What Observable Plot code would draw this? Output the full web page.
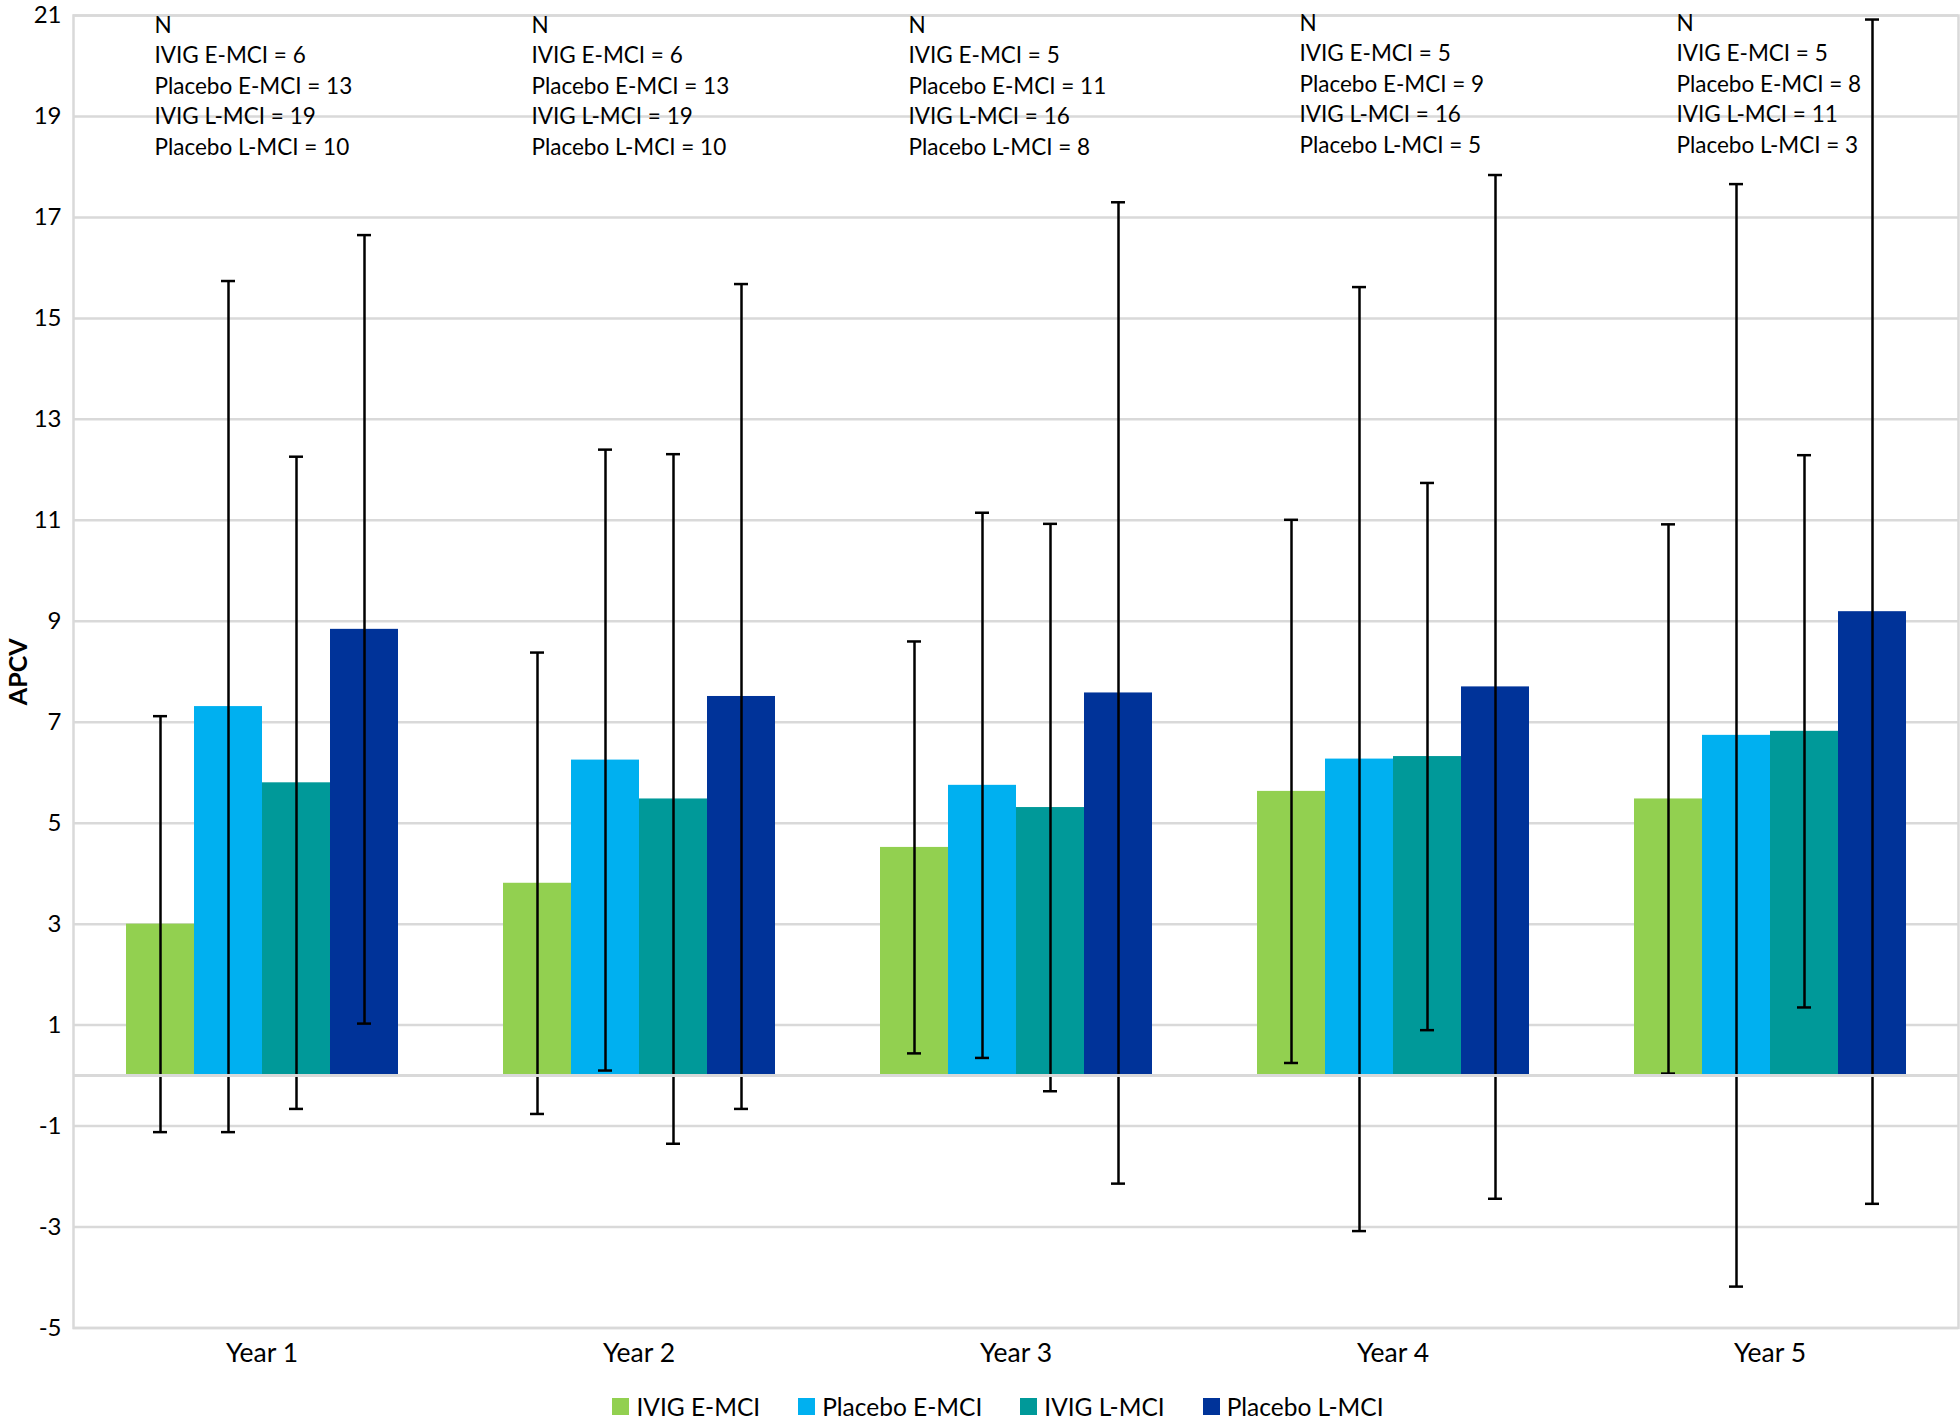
<!DOCTYPE html>
<html>
<head>
<meta charset="utf-8">
<script src="https://cdn.jsdelivr.net/npm/d3@7"></script>
<script src="https://cdn.jsdelivr.net/npm/@observablehq/plot@0.6"></script>
<style>
  html, body { margin: 0; padding: 0; background: #fff; }
  body { font-family: Lato, "Open Sans", sans-serif; width: 1960px; }
  #chart svg { display: block; }
  #chart [aria-label="y-axis label"] text { font-weight: bold; font-size: 25px; }
  #legendWrap { display: flex; justify-content: center; padding-left: 74px; }
  #legendWrap [class$="-swatch"] { margin-right: 38px !important; }
  #legendWrap [class$="-swatch"] > svg { margin-right: 7px !important; }
</style>
</head>
<body>
<div id="chart"></div>
<div id="legendWrap"></div>
<script>
// ---- data ----
const years = ["Year 1", "Year 2", "Year 3", "Year 4", "Year 5"];
const series = ["IVIG E-MCI", "Placebo E-MCI", "IVIG L-MCI", "Placebo L-MCI"];
const colors = ["#92d050", "#00b0f0", "#009999", "#003399"];

// mean APCV per year
const meanIvigE = [3.00, 3.81, 4.52, 5.63, 5.48];
const meanPlaE  = [7.31, 6.25, 5.75, 6.27, 6.74];
const meanIvigL = [5.80, 5.48, 5.31, 6.32, 6.82];
const meanPlaL  = [8.84, 7.51, 7.58, 7.70, 9.19];

// error-bar half widths
const errIvigE = [4.12, 4.57, 4.08, 5.38, 5.44];
const errPlaE  = [8.43, 6.15, 5.40, 9.35, 10.92];
const errIvigL = [6.46, 6.83, 5.62, 5.42, 5.47];
const errPlaL  = [7.81, 8.17, 9.72, 10.14, 11.73];

// group sizes (N)
const nIvigE = [6, 6, 5, 5, 5];
const nPlaE  = [13, 13, 11, 9, 8];
const nIvigL = [19, 19, 16, 16, 11];
const nPlaL  = [10, 10, 8, 5, 3];

const yTicks = [-5, -3, -1, 1, 3, 5, 7, 9, 11, 13, 15, 17, 19, 21];

// ---- build tables ----
const means = [meanIvigE, meanPlaE, meanIvigL, meanPlaL];
const errs = [errIvigE, errPlaE, errIvigL, errPlaL];
const rows = [];
years.forEach((year, i) => {
  series.forEach((s, j) => {
    const m = means[j][i], e = errs[j][i];
    rows.push({year, series: s, mean: m, lo: m - e, hi: m + e});
  });
});
const ann = years.map((year, i) => ({
  year,
  label: `N\nIVIG E-MCI = ${nIvigE[i]}\nPlacebo E-MCI = ${nPlaE[i]}\nIVIG L-MCI = ${nIvigL[i]}\nPlacebo L-MCI = ${nPlaL[i]}`
}));

const grid = "#d9d9d9";

const chart = Plot.plot({
  width: 1960,
  height: 1390,
  marginLeft: 71,
  marginRight: 1,
  marginTop: 15,
  marginBottom: 62.5,
  style: {fontFamily: "Lato, 'Open Sans', sans-serif", fontSize: "22px", color: "#000", background: "#fff"},
  fx: {domain: years, padding: 0, label: null},
  x: {domain: series, paddingInner: 0, paddingOuter: 0.745, axis: null},
  y: {domain: [-5, 21], label: "APCV"},
  color: {domain: series, range: colors},
  marks: [
    Plot.gridY(yTicks, {stroke: grid, strokeOpacity: 1, strokeWidth: 2.5}),
    Plot.frame({facet: "super", stroke: grid, strokeWidth: 2.5}),
    Plot.barY(rows, {fx: "year", x: "series", y: "mean", fill: "series"}),
    Plot.ruleX(rows, {fx: "year", x: "series", y1: "lo", y2: "hi", stroke: "#000", strokeWidth: 2.5}),
    Plot.tickY(rows, {fx: "year", x: "series", y: "hi", insetLeft: 27, insetRight: 27, stroke: "#000", strokeWidth: 2.5}),
    Plot.tickY(rows, {fx: "year", x: "series", y: "lo", insetLeft: 27, insetRight: 27, stroke: "#000", strokeWidth: 2.5}),
    Plot.ruleY([0], {stroke: grid, strokeWidth: 3}),
    Plot.text(ann.slice(0, 3), {fx: "year", text: "label", frameAnchor: "top-left", textAnchor: "start", lineAnchor: "top", dx: 81, dy: -4, lineHeight: 1.35, fontSize: 22.5, fill: "#000"}),
    Plot.text(ann.slice(3), {fx: "year", text: "label", frameAnchor: "top-left", textAnchor: "start", lineAnchor: "top", dx: 95, dy: -6, lineHeight: 1.35, fontSize: 22.5, fill: "#000"}),
    Plot.axisY(yTicks, {tickSize: 0, tickPadding: 12, fontSize: 24, tickFormat: d => String(d), label: "APCV", labelAnchor: "center", labelArrow: "none", labelOffset: 64}),
    Plot.axisFx({anchor: "bottom", tickSize: 0, tickPadding: 15, fontSize: 26.5, label: null})
  ]
});
document.getElementById("chart").appendChild(chart);

const legend = Plot.legend({
  color: {domain: series, range: colors},
  legend: "swatches",
  swatchSize: 17,
  style: {fontFamily: "Lato, 'Open Sans', sans-serif", fontSize: "24.5px", color: "#000"}
});
document.getElementById("legendWrap").appendChild(legend);
</script>
</body>
</html>
